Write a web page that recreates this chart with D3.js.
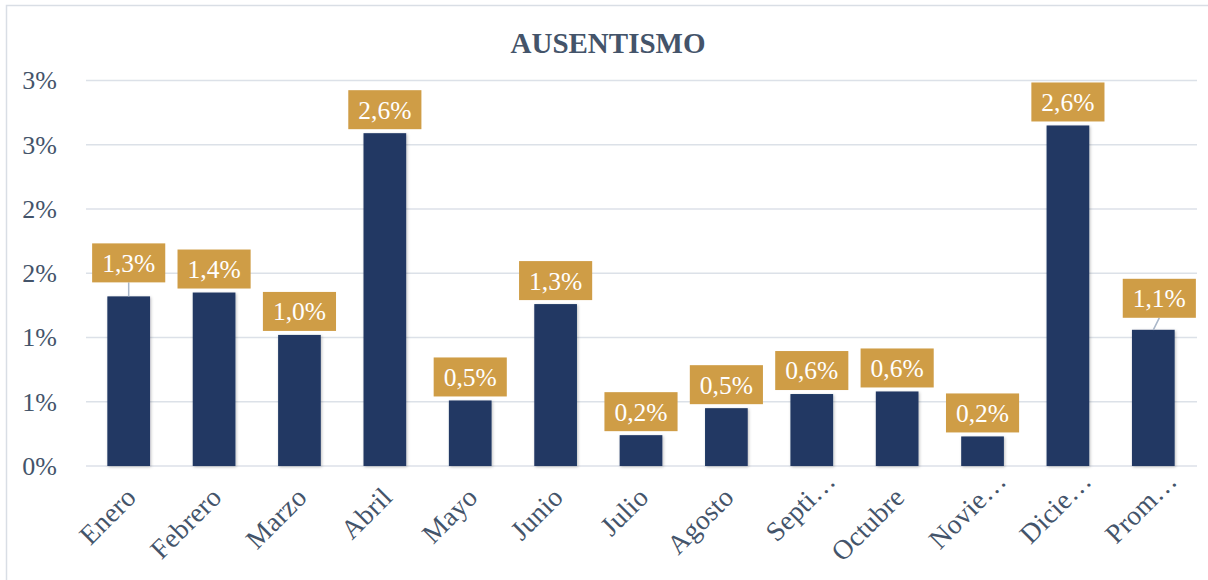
<!DOCTYPE html>
<html>
<head>
<meta charset="utf-8">
<script src="https://cdn.jsdelivr.net/npm/d3@7"></script>
<style>
  body { margin: 0; background: #fff; }
  text { font-family: "Liberation Serif", "Times New Roman", serif; }
</style>
</head>
<body>
<svg id="chart" width="1208" height="580"></svg>
<script>
// data (percent units)
const months = ["Enero", "Febrero", "Marzo", "Abril", "Mayo", "Junio", "Julio",
  "Agosto", "Septiembre", "Octubre", "Noviembre", "Diciembre", "Promedio"];
const monthLabels = ["Enero", "Febrero", "Marzo", "Abril", "Mayo", "Junio", "Julio",
  "Agosto", "Septi…", "Octubre", "Novie…", "Dicie…", "Prom…"];
const ausentismo = [1.32, 1.35, 1.02, 2.59, 0.51, 1.26, 0.24, 0.45, 0.56, 0.58, 0.23, 2.65, 1.06];
const yTicks = [0, 0.5, 1, 1.5, 2, 2.5, 3];
const yTickLabels = ["0%", "1%", "1%", "2%", "2%", "3%", "3%"];

// label boxes that were dragged off their bars (kept apart from the data)
const labelNudge = { "Enero": { dx: 0, lift: 10 }, "Promedio": { dx: 6, lift: 8 } };

const svg = d3.select("#chart");
const W = 1208, H = 580;
const plotLeft = 86, plotRight = 1196, plotTop = 80.5, plotBottom = 466;

const textColor = "#44546A";
const barColor = "#203864";
const boxColor = "#CF9D46";
const gridColor = "#DCE1E8";

const comma = d3.formatLocale({ decimal: ",", thousands: ".", grouping: [3], currency: ["", "€"] });
const fmt = v => comma.format(".1f")(v) + "%";

const x = d3.scaleBand().domain(months).range([plotLeft, plotRight]).paddingInner(0.5).paddingOuter(0.25);
const y = d3.scaleLinear().domain([0, 3]).range([plotBottom, plotTop]);

const data = months.map((m, i) => ({ month: m, label: monthLabels[i], value: ausentismo[i] }));

// shadow under bars
const defs = svg.append("defs");
const f = defs.append("filter").attr("id", "shadow").attr("x", "-20%").attr("y", "-20%").attr("width", "140%").attr("height", "140%");
f.append("feDropShadow").attr("dx", 1).attr("dy", 1).attr("stdDeviation", 1.5).attr("flood-color", "#000").attr("flood-opacity", 0.25);

svg.append("rect").attr("width", W).attr("height", H).attr("fill", "#fff");
// chart border
svg.append("rect")
  .attr("x", 6.5).attr("y", 5.5).attr("width", W).attr("height", H)
  .attr("fill", "none").attr("stroke", "#D9DEE5").attr("stroke-width", 1.5);

svg.append("text")
  .attr("x", 608).attr("y", 53)
  .attr("text-anchor", "middle")
  .style("font-size", "29px").style("font-weight", "bold")
  .attr("fill", textColor)
  .text("AUSENTISMO");

// gridlines + y labels
svg.append("g").selectAll("line")
  .data(yTicks)
  .enter()
  .append("line")
  .attr("x1", plotLeft).attr("x2", plotRight + 1)
  .attr("y1", d => y(d)).attr("y2", d => y(d))
  .attr("stroke", gridColor).attr("stroke-width", 1.6);

svg.append("g").selectAll("text")
  .data(yTicks)
  .enter()
  .append("text")
  .attr("x", 57).attr("y", d => y(d))
  .attr("dy", "0.34em")
  .attr("text-anchor", "end")
  .style("font-size", "26px")
  .attr("fill", textColor)
  .text((d, i) => yTickLabels[i]);

// bars
svg.append("g").selectAll(".bar")
  .data(data)
  .enter()
  .append("rect")
  .attr("class", "bar")
  .attr("x", d => x(d.month))
  .attr("y", d => y(d.value))
  .attr("width", x.bandwidth())
  .attr("height", d => plotBottom - y(d.value))
  .attr("fill", barColor)
  .attr("filter", "url(#shadow)");

// x labels, rotated
svg.append("g").selectAll("text")
  .data(data)
  .enter()
  .append("text")
  .attr("transform", d => `translate(${x(d.month) + x.bandwidth() / 2 + 9},${plotBottom + 33}) rotate(-45)`)
  .attr("dx", d => d.label.endsWith("…") ? 23 : 0)
  .attr("text-anchor", "end")
  .style("font-size", "27.5px")
  .style("letter-spacing", "0.2px")
  .attr("fill", textColor)
  .text(d => d.label);

// value labels in gold boxes
const boxH = 39, gap = 4;
const lab = svg.append("g").selectAll("g")
  .data(data)
  .enter()
  .append("g")
  .attr("transform", d => {
    const n = labelNudge[d.month] || { dx: 0, lift: 0 };
    return `translate(${x(d.month) + x.bandwidth() / 2 + n.dx},${y(d.value) - gap - n.lift - boxH})`;
  });

// leader lines for moved labels
lab.filter(d => labelNudge[d.month])
  .append("line")
  .attr("x1", 0).attr("y1", boxH)
  .attr("x2", d => -labelNudge[d.month].dx)
  .attr("y2", d => boxH + gap + labelNudge[d.month].lift)
  .attr("stroke", "#A9B6C8").attr("stroke-width", 1.5);

lab.append("rect")
  .attr("class", "box")
  .attr("y", 0).attr("height", boxH)
  .attr("fill", boxColor);

lab.append("text")
  .attr("y", boxH / 2)
  .attr("dy", "0.35em")
  .attr("text-anchor", "middle")
  .style("font-size", "25.5px")
  .attr("fill", "#fff")
  .text(d => fmt(d.value));

lab.each(function () {
  const g = d3.select(this);
  const w = g.select("text").node().getComputedTextLength() + 20;
  g.select("rect.box").attr("x", -w / 2).attr("width", w);
});
</script>
</body>
</html>
